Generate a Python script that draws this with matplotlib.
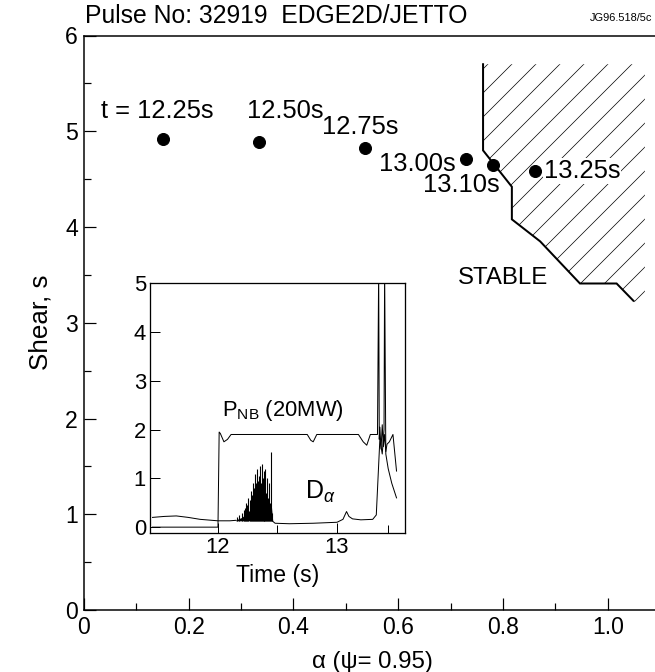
import matplotlib
matplotlib.use("Agg")
import matplotlib.pyplot as plt
from matplotlib.ticker import MultipleLocator, FixedLocator, FixedFormatter

plt.rcParams['font.family'] = ['Liberation Sans', 'DejaVu Sans']
plt.rcParams['hatch.linewidth'] = 0.7
plt.rcParams['mathtext.fontset'] = 'custom'
plt.rcParams['mathtext.rm'] = 'Liberation Sans'
plt.rcParams['mathtext.it'] = 'Liberation Sans:italic'

# ---- edge stability trajectory (alpha, shear) ----
times = ["t = 12.25s", "12.50s", "12.75s", "13.00s", "13.10s", "13.25s"]
alpha = [0.150, 0.334, 0.537, 0.729, 0.781, 0.861]
shear = [4.92, 4.89, 4.82, 4.71, 4.65, 4.58]

# ---- ideal ballooning stability boundary ----
bound_alpha = [0.762, 0.762, 0.817, 0.817, 0.871, 0.947, 1.017, 1.049]
bound_shear = [5.70, 4.80, 4.42, 4.08, 3.85, 3.41, 3.41, 3.23]
stable_edge_alpha = 1.071
stable_floor_shear = 3.10

# ---- inset: NBI power and D-alpha traces ----
pnb_t = [11.45, 11.99, 12.00, 12.01, 12.02, 12.05, 12.08, 12.11, 12.75, 12.78,
         12.80, 12.83, 13.18, 13.22, 13.25, 13.28, 13.34, 13.35, 13.355, 13.36,
         13.37, 13.38, 13.39, 13.40, 13.41, 13.42, 13.44, 13.47, 13.50]
pnb_v = [0.00, 0.00, 0.00, 1.95, 1.92, 1.75, 1.80, 1.90, 1.90, 1.78,
         1.75, 1.90, 1.90, 1.75, 1.68, 1.90, 1.90, 5.30, 1.80, 2.05,
         1.60, 2.10, 1.65, 1.90, 1.55, 1.70, 1.75, 1.90, 1.15]

da_t = [11.45, 11.55, 11.65, 11.75, 11.85, 12.00, 12.10, 12.15, 12.46, 12.48,
        12.60, 12.80, 13.00, 13.05, 13.08, 13.10, 13.13, 13.20, 13.30, 13.33,
        13.36, 13.38, 13.395, 13.40, 13.41, 13.43, 13.46, 13.50]
da_v = [0.20, 0.22, 0.23, 0.20, 0.16, 0.13, 0.13, 0.14, 0.12, 0.08,
        0.07, 0.08, 0.10, 0.16, 0.32, 0.22, 0.17, 0.15, 0.16, 0.25,
        1.80, 1.50, 2.00, 5.30, 1.50, 1.20, 0.90, 0.60]

# ELM bursts on D-alpha: solid lower mass plus individual spikes
elm_fill_t = [12.15, 12.20, 12.25, 12.30, 12.34, 12.38, 12.42, 12.45, 12.46]
elm_fill_v = [0.15, 0.20, 0.30, 0.45, 0.60, 0.60, 0.50, 0.40, 0.13]
elm_t = [12.16, 12.18, 12.20, 12.215, 12.225, 12.235, 12.245, 12.255, 12.265,
         12.275, 12.285, 12.295, 12.305, 12.315, 12.322, 12.330, 12.337, 12.345,
         12.352, 12.360, 12.368, 12.375, 12.383, 12.390, 12.398, 12.405, 12.413,
         12.420, 12.428, 12.435, 12.445, 12.452]
elm_v = [0.20, 0.25, 0.30, 0.35, 0.40, 0.50, 0.45, 0.60, 0.55,
         0.75, 0.65, 0.90, 0.80, 1.10, 0.90, 1.20, 0.95, 1.05,
         1.25, 0.90, 1.30, 1.00, 1.15, 0.85, 1.20, 0.70, 1.00,
         0.60, 0.90, 0.50, 1.55, 0.30]
elm_base = 0.13

# ---- figure ----
W, H, DPI = 655, 672, 72
fig = plt.figure(figsize=(W / DPI, H / DPI), dpi=DPI)

ax = fig.add_axes([84 / W, 62 / H, 1.1 * 523.7 / W, 574.5 / H])
ax.set_xlim(0, 1.1)
ax.set_ylim(0, 6)

# stable region (hatched) and its boundary
poly_x = bound_alpha + [stable_edge_alpha, stable_edge_alpha]
poly_y = bound_shear + [stable_floor_shear, bound_shear[0]]
ax.fill(poly_x, poly_y, facecolor='none', edgecolor='black', hatch='/', linewidth=0)
ax.plot(bound_alpha, bound_shear, color='black', lw=2.0, solid_joinstyle='miter')

ax.plot(alpha, shear, 'o', color='black', markersize=12, zorder=5)

offsets = [(-5, 28), (26, 31), (-5, 21), (-48, -5), (-32, -20), (47, 0)]
for i, (lab, xa, ys) in enumerate(zip(times, alpha, shear)):
    kw = {}
    if i == len(times) - 1:
        kw['bbox'] = dict(facecolor='white', edgecolor='none', pad=1)
    ax.annotate(lab, (xa, ys), xytext=offsets[i], textcoords='offset points',
                ha='center', va='center', fontsize=25.5, zorder=6, **kw)

ax.text(0.80, 3.47, "STABLE", ha='center', va='center', fontsize=24)

ax.xaxis.set_major_locator(FixedLocator([0, 0.2, 0.4, 0.6, 0.8, 1.0]))
ax.xaxis.set_major_formatter(FixedFormatter(["0", "0.2", "0.4", "0.6", "0.8", "1.0"]))
ax.xaxis.set_minor_locator(MultipleLocator(0.1))
ax.yaxis.set_major_locator(MultipleLocator(1))
ax.yaxis.set_minor_locator(MultipleLocator(0.5))
ax.tick_params(which='both', direction='in', top=False, right=False, labelsize=23, width=1.2)
ax.tick_params(which='major', length=12, pad=6)
ax.tick_params(which='minor', length=7)
for s in ax.spines.values():
    s.set_linewidth(1.5)
ax.set_xlabel(r"α (ψ= 0.95)", fontsize=24, labelpad=12)
ax.set_ylabel("Shear, s", fontsize=26, labelpad=13)

fig.text(85 / W, 1 - 16 / H, "Pulse No: 32919  EDGE2D/JETTO", fontsize=24.8,
         ha='left', va='center')
fig.text(590 / W, 1 - 18 / H, "JG96.518/5c", fontsize=11, ha='left', va='center')

# ---- inset ----
ins = fig.add_axes([150 / W, 139 / H, 254.5 / W, 249.7 / H])
ins.set_xlim(11.429, 13.567)
ins.set_ylim(-0.12, 5)
ins.plot(pnb_t, pnb_v, color='black', lw=1.0)
ins.plot(da_t[:8], da_v[:8], color='black', lw=1.0)
ins.plot(da_t[8:], da_v[8:], color='black', lw=1.0)
ins.fill_between(elm_fill_t, elm_base, elm_fill_v, color='black', lw=0)
ins.vlines(elm_t, elm_base, elm_v, color='black', lw=1.1)

ins.text(12.03, 2.40, r"P$_{\rm NB}$ (20MW)", fontsize=22, ha='left', va='center')
ins.text(12.73, 0.72, r"D$_\alpha$", fontsize=25, ha='left', va='center')

ins.xaxis.set_major_locator(FixedLocator([12, 13]))
ins.xaxis.set_minor_locator(FixedLocator([12.5, 13.43]))
ins.yaxis.set_major_locator(MultipleLocator(1))
ins.tick_params(which='both', direction='in', labelsize=22, width=1.0)
ins.tick_params(which='major', length=10, pad=4)
ins.tick_params(which='minor', length=8)
for s in ins.spines.values():
    s.set_linewidth(1.3)
ins.set_xlabel("Time (s)", fontsize=23, labelpad=6)

fig.savefig("out.png", dpi=DPI)
